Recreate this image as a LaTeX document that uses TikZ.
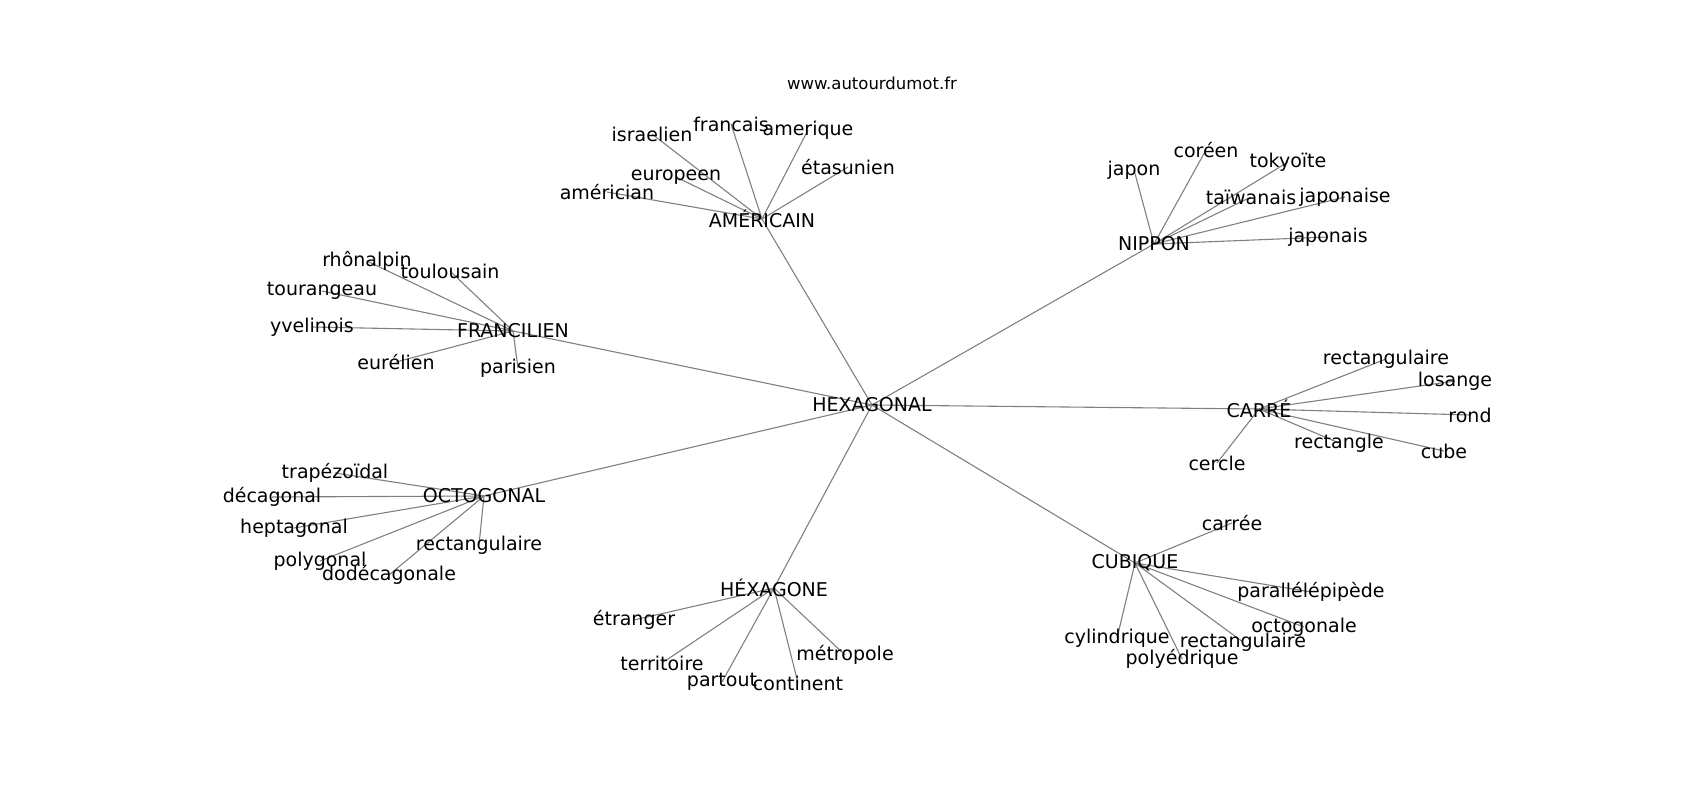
\documentclass[tikz,border=0pt]{standalone}
\usepackage{fontspec}
\setmainfont{DejaVu Sans}
\usetikzlibrary{backgrounds}
\begin{document}
\begin{tikzpicture}[x=1pt,y=-1pt,
  lbl/.style={inner sep=0pt, font=\fontsize{19}{23}\selectfont, text=black},
  ttl/.style={inner sep=0pt, font=\fontsize{16.5}{20}\selectfont, text=black},
  edge/.style={draw=gray, line width=1.1pt}]
\useasboundingbox (0,0) rectangle (1700,800);
\node[ttl] (title) at (872,83) {www.autourdumot.fr};
% hubs
\node[lbl] (hex) at (872,405) {HEXAGONAL};
\node[lbl] (ame) at (762,219) {AMÉRICAIN};
\node[lbl] (nip) at (1154,244) {NIPPON};
\node[lbl] (fra) at (513,331) {FRANCILIEN};
\node[lbl] (car) at (1259,409) {CARRÉ};
\node[lbl] (oct) at (484,496) {OCTOGONAL};
\node[lbl] (cub) at (1135,563) {CUBIQUE};
\node[lbl] (hxg) at (774,588) {HÉXAGONE};
% AMÉRICAIN
\node[lbl] (a1) at (652,134) {israelien};
\node[lbl] (a2) at (731,124) {francais};
\node[lbl] (a3) at (808,130) {amerique};
\node[lbl] (a4) at (848,167) {étasunien};
\node[lbl] (a5) at (676,177) {europeen};
\node[lbl] (a6) at (607,192) {américian};
% NIPPON
\node[lbl] (n1) at (1134,170) {japon};
\node[lbl] (n2) at (1206,150) {coréen};
\node[lbl] (n3) at (1288,162) {tokyoïte};
\node[lbl] (n4) at (1251,197) {taïwanais};
\node[lbl] (n5) at (1345,197) {japonaise};
\node[lbl] (n6) at (1328,237) {japonais};
% FRANCILIEN
\node[lbl] (f1) at (367,261) {rhônalpin};
\node[lbl] (f2) at (450,271) {toulousain};
\node[lbl] (f3) at (322,291) {tourangeau};
\node[lbl] (f4) at (312,327) {yvelinois};
\node[lbl] (f5) at (396,362) {eurélien};
\node[lbl] (f6) at (518,368) {parisien};
% CARRÉ
\node[lbl] (c1) at (1386,359) {rectangulaire};
\node[lbl] (c2) at (1455,381) {losange};
\node[lbl] (c3) at (1470,415) {rond};
\node[lbl] (c4) at (1339,443) {rectangle};
\node[lbl] (c5) at (1444,451) {cube};
\node[lbl] (c6) at (1217,463) {cercle};
% OCTOGONAL
\node[lbl] (o1) at (335,473) {trapézoïdal};
\node[lbl] (o2) at (272,497) {décagonal};
\node[lbl] (o3) at (294,528) {heptagonal};
\node[lbl] (o4) at (320,561) {polygonal};
\node[lbl] (o5) at (389,575) {dodécagonale};
\node[lbl] (o6) at (479,545) {rectangulaire};
% CUBIQUE
\node[lbl] (u1) at (1232,523) {carrée};
\node[lbl] (u2) at (1311,592) {parallélépipède};
\node[lbl] (u3) at (1304,627) {octogonale};
\node[lbl] (u4) at (1243,642) {rectangulaire};
\node[lbl] (u5) at (1117,638) {cylindrique};
\node[lbl] (u6) at (1182,659) {polyédrique};
% HÉXAGONE
\node[lbl] (h1) at (634,620) {étranger};
\node[lbl] (h2) at (662,663) {territoire};
\node[lbl] (h3) at (722,682) {partout};
\node[lbl] (h4) at (798,683) {continent};
\node[lbl] (h5) at (845,655) {métropole};
\begin{pgfonlayer}{background}
\foreach \h in {ame,nip,fra,car,oct,cub,hxg} \draw[edge] (hex.center) -- (\h.center);
\foreach \t in {a1,a2,a3,a4,a5,a6} \draw[edge] (ame.center) -- (\t.center);
\foreach \t in {n1,n2,n3,n4,n5,n6} \draw[edge] (nip.center) -- (\t.center);
\foreach \t in {f1,f2,f3,f4,f5,f6} \draw[edge] (fra.center) -- (\t.center);
\foreach \t in {c1,c2,c3,c4,c5,c6} \draw[edge] (car.center) -- (\t.center);
\foreach \t in {o1,o2,o3,o4,o5,o6} \draw[edge] (oct.center) -- (\t.center);
\foreach \t in {u1,u2,u3,u4,u5,u6} \draw[edge] (cub.center) -- (\t.center);
\foreach \t in {h1,h2,h3,h4,h5} \draw[edge] (hxg.center) -- (\t.center);
\end{pgfonlayer}
\end{tikzpicture}
\end{document}
